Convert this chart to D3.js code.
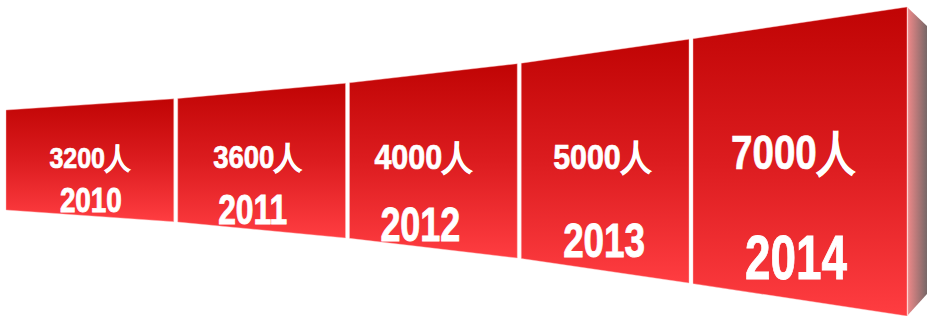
<!DOCTYPE html>
<html><head><meta charset="utf-8">
<script src="https://cdn.jsdelivr.net/npm/d3@7"></script>
<style>html,body{margin:0;padding:0;background:#fff;overflow:hidden}</style>
</head><body>
<svg id="chart" width="927" height="316"></svg>
<script>
const years = ["2010", "2011", "2012", "2013", "2014"];
const values = [3200, 3600, 4000, 5000, 7000];
const unit = "人";

const W = 927, H = 316;
const svg = d3.select("#chart");
const FONT = "'Liberation Sans','Arial',sans-serif";

// panel edge positions (index -> x) : last panel drawn wider (perspective)
const edge = d3.scaleLinear().domain([0, years.length - 1, years.length]).range([6, 693, 911]);
const gap = 4;
// half-height of the receding strip as function of x
const halfH = d3.scaleLinear().domain([6, 175, 347, 520, 693, 907]).range([50, 61.5, 77.5, 97.5, 122.5, 154.5]);
const cyS = d3.scaleLinear().domain([6, 907]).range([160, 161.5]);

// label styles per panel
const valCap = d3.scaleOrdinal().domain(years).range([20.5, 22, 24.5, 25, 34]);
const valW = d3.scaleOrdinal().domain(years).range([81, 89, 98, 98, 124]);
const valDx = d3.scaleOrdinal().domain(years).range([0, -4, -10, -3, -7]);
const yrCap = d3.scaleOrdinal().domain(years).range([25, 30, 34.5, 35, 44.5]);
const yrW = d3.scaleOrdinal().domain(years).range([62, 69, 80, 82, 102]);
const yrDx = d3.scaleOrdinal().domain(years).range([1, -9, -13, -1, -4]);
const yrOff = d3.scaleLinear().domain([55.5, 87, 138]).range([51.5, 79.5, 117]);

const defs = svg.append("defs");
const g1 = defs.append("linearGradient").attr("id", "front").attr("x1", 0).attr("y1", 0).attr("x2", 0).attr("y2", 1);
g1.append("stop").attr("offset", "0%").attr("stop-color", "#c00404");
g1.append("stop").attr("offset", "50%").attr("stop-color", "#dc1c1f");
g1.append("stop").attr("offset", "100%").attr("stop-color", "#ff3d41");
const g2 = defs.append("linearGradient").attr("id", "side").attr("x1", 0).attr("y1", 0).attr("x2", 1).attr("y2", 0);
g2.append("stop").attr("offset", "0%").attr("stop-color", "#f28a8a");
g2.append("stop").attr("offset", "100%").attr("stop-color", "#776767");

const panels = years.map((y, i) => {
  const x0 = edge(i), x1 = edge(i + 1) - gap;
  const cx = (x0 + x1) / 2;
  return { year: y, value: values[i], i, x0, x1, cx, h: halfH(cx), cy: cyS(cx) };
});

// side face of the last panel
const last = panels[panels.length - 1];
const sx0 = last.x1, sx1 = W;
svg.append("path")
  .attr("d", `M${sx0},${cyS(sx0) - halfH(sx0)} L${sx1},${cyS(sx0) - halfH(sx0) + 19} L${sx1},${cyS(sx0) + halfH(sx0) - 22} L${sx0},${cyS(sx0) + halfH(sx0)} Z`)
  .attr("fill", "url(#side)");
svg.append("line")
  .attr("x1", sx0 + 0.5).attr("x2", sx0 + 0.5)
  .attr("y1", cyS(sx0) - halfH(sx0)).attr("y2", H)
  .attr("stroke", "#ffd8d8").attr("stroke-width", 1.2);

const pg = svg.selectAll("g.panel").data(panels).join("g").attr("class", "panel");

pg.append("path")
  .attr("d", d => {
    const t0 = cyS(d.x0) - halfH(d.x0), t1 = cyS(d.x1) - halfH(d.x1);
    const b0 = cyS(d.x0) + halfH(d.x0), b1 = cyS(d.x1) + halfH(d.x1);
    return `M${d.x0},${t0} L${d.x1},${t1} L${d.x1},${b1} L${d.x0},${b0} Z`;
  })
  .attr("fill", "url(#front)")
  .attr("stroke", "rgba(255,190,190,0.55)")
  .attr("stroke-width", 0.8);

pg.append("text")
  .attr("x", d => d.cx + valDx(d.year))
  .attr("y", d => d.cy + 8)
  .attr("text-anchor", "middle")
  .attr("font-family", FONT)
  .attr("font-weight", "bold")
  .attr("font-size", d => valCap(d.year) / 0.716)
  .attr("textLength", d => valW(d.year))
  .attr("lengthAdjust", "spacingAndGlyphs")
  .attr("fill", "#ffffff")
  .attr("stroke", "#ffffff").attr("stroke-width", 0.7)
  .text(d => d.value + unit);

pg.append("text")
  .attr("x", d => d.cx + yrDx(d.year))
  .attr("y", d => d.cy + yrOff(d.h))
  .attr("text-anchor", "middle")
  .attr("font-family", FONT)
  .attr("font-weight", "bold")
  .attr("font-size", d => yrCap(d.year) / 0.716)
  .attr("textLength", d => yrW(d.year))
  .attr("lengthAdjust", "spacingAndGlyphs")
  .attr("fill", "#ffffff")
  .attr("stroke", "#ffffff").attr("stroke-width", 0.9)
  .text(d => d.year);
</script>
</body></html>
